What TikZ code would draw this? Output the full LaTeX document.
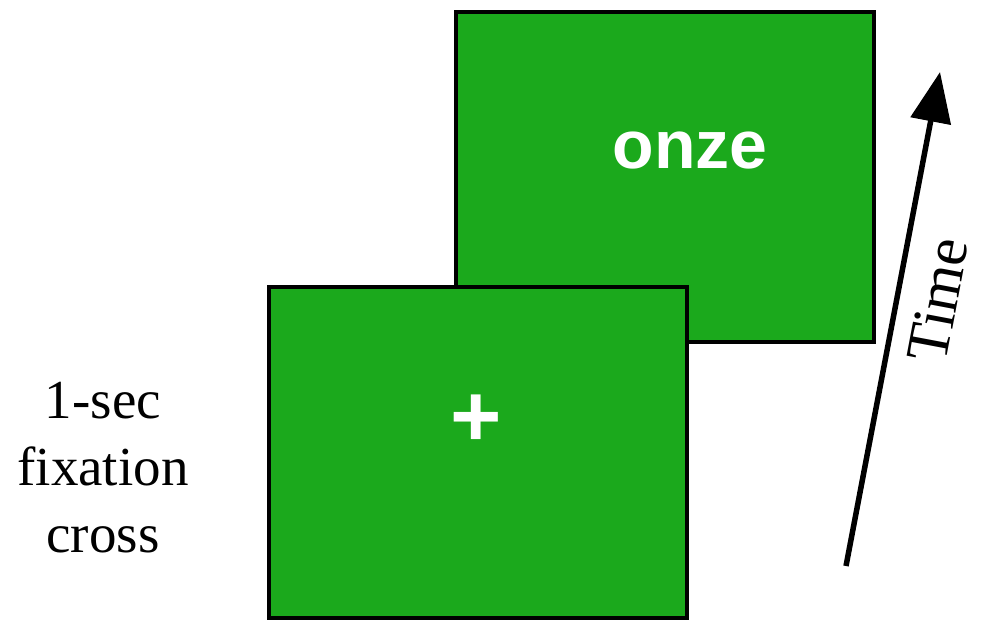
\documentclass[tikz,border=0pt]{standalone}
\usepackage{fontspec}
\setmainfont{Liberation Serif}
\newfontfamily\arialfont{Liberation Sans}
\usetikzlibrary{arrows.meta}
\definecolor{screengreen}{RGB}{27,169,28}
\tikzset{
  screen/.style={draw=black, line width=3.2pt, fill=screengreen},
  timearrow/.style={line width=5.5pt, -{Triangle[length=50pt,width=40pt]}},
  serif/.style={font=\fontsize{55}{67}\selectfont, align=center, inner sep=0pt},
}
\begin{document}
\begin{tikzpicture}[x=1pt,y=-1pt]
\useasboundingbox (0,0) rectangle (987,619);
% back screen
\draw[screen] (456,12) rectangle (874,342);
\node[text=white, inner sep=0pt, font=\arialfont\bfseries\fontsize{68}{68}\selectfont] (word) at (690,151) {onze};
% front screen
\draw[screen] (269,287) rectangle (687,618);
\node[text=white, inner sep=0pt, font=\arialfont\bfseries\fontsize{88}{88}\selectfont] (fix) at (476,421) {+};
% label
\node[serif, anchor=base] (label) at (103,552) {1-sec\\fixation\\cross};
% time arrow
\coordinate (tstart) at (846,566);
\coordinate (tend) at (940,72);
\draw[timearrow] (tstart) -- (tend);
\node[inner sep=0pt, rotate=79.3, font=\fontsize{60}{60}\selectfont] (time) at (938,300) {Time};
\end{tikzpicture}
\end{document}
